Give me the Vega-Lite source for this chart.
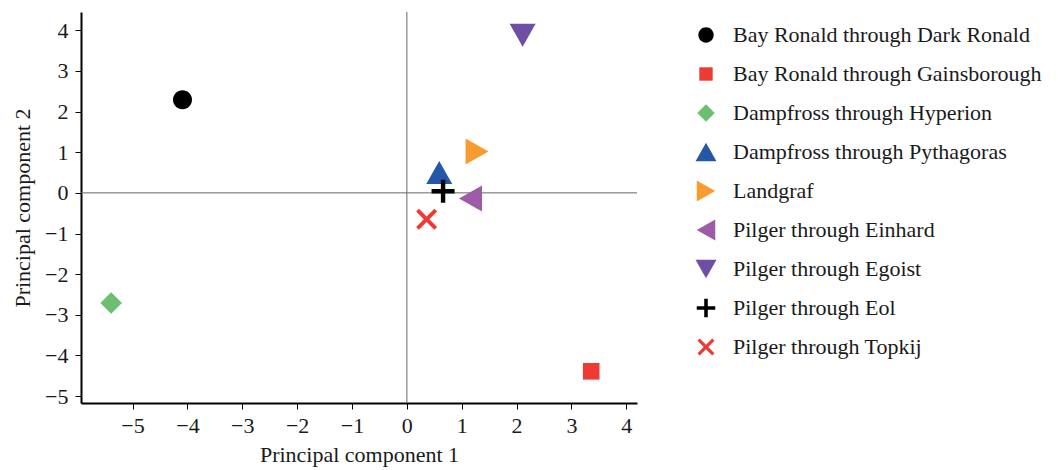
{
  "$schema": "https://vega.github.io/schema/vega-lite/v6.json",
  "width": 556,
  "height": 391,
  "autosize": {"type": "none"},
  "padding": {"left": 81, "top": 12, "right": 421, "bottom": 67},
  "background": "white",
  "config": {
    "view": {"stroke": null},
    "font": "Liberation Serif",
    "axis": {
      "grid": false,
      "domainColor": "#000000",
      "domainWidth": 2,
      "tickColor": "#000000",
      "tickWidth": 1,
      "tickSize": 6,
      "labelFont": "Liberation Serif",
      "labelFontSize": 22,
      "labelColor": "#1a1a1a",
      "titleFont": "Liberation Serif",
      "titleFontSize": 22,
      "titleFontWeight": "normal",
      "titleColor": "#1a1a1a"
    },
    "legend": {
      "labelFont": "Liberation Serif",
      "labelFontSize": 22,
      "labelColor": "#1a1a1a",
      "labelLimit": 400
    }
  },
  "layer": [
    {
      "data": {"values": [{"zero": 0}]},
      "mark": {"type": "rule", "color": "#666666", "strokeWidth": 1},
      "encoding": {
        "x": {"field": "zero", "type": "quantitative", "title": "Principal component 1"}
      }
    },
    {
      "data": {"values": [{"zero": 0}]},
      "mark": {"type": "rule", "color": "#666666", "strokeWidth": 1},
      "encoding": {
        "y": {"field": "zero", "type": "quantitative", "title": "Principal component 2"}
      }
    },
    {
      "data": {
        "values": [
          {"group": "Bay Ronald through Dark Ronald", "pc1": -4.09, "pc2": 2.29},
          {"group": "Bay Ronald through Gainsborough", "pc1": 3.36, "pc2": -4.39},
          {"group": "Dampfross through Hyperion", "pc1": -5.39, "pc2": -2.71},
          {"group": "Dampfross through Pythagoras", "pc1": 0.59, "pc2": 0.5},
          {"group": "Landgraf", "pc1": 1.28, "pc2": 1.02},
          {"group": "Pilger through Einhard", "pc1": 1.16, "pc2": -0.14},
          {"group": "Pilger through Egoist", "pc1": 2.11, "pc2": 3.88},
          {"group": "Pilger through Eol", "pc1": 0.66, "pc2": 0.04},
          {"group": "Pilger through Topkij", "pc1": 0.36, "pc2": -0.65}
        ]
      },
      "mark": {"type": "point", "filled": true, "size": 400, "strokeWidth": 0, "opacity": 1},
      "encoding": {
        "x": {
          "field": "pc1",
          "type": "quantitative",
          "title": "Principal component 1",
          "scale": {"domain": [-5.94, 4.195], "nice": false, "zero": false},
          "axis": {"values": [-5, -4, -3, -2, -1, 0, 1, 2, 3, 4], "labelPadding": 6, "titlePadding": 8}
        },
        "y": {
          "field": "pc2",
          "type": "quantitative",
          "title": "Principal component 2",
          "scale": {"domain": [-5.17, 4.45], "nice": false, "zero": false},
          "axis": {"values": [-5, -4, -3, -2, -1, 0, 1, 2, 3, 4], "labelPadding": 7, "titlePadding": 10}
        },
        "color": {
          "field": "group",
          "type": "nominal",
          "scale": {
            "domain": ["Bay Ronald through Dark Ronald", "Bay Ronald through Gainsborough", "Dampfross through Hyperion", "Dampfross through Pythagoras", "Landgraf", "Pilger through Einhard", "Pilger through Egoist", "Pilger through Eol", "Pilger through Topkij"],
            "range": ["#000000", "#ee3a33", "#6bbf72", "#2457a8", "#f89c32", "#9e5ba6", "#6f4fa3", "#000000", "#ee3a33"]
          },
          "legend": {
            "title": null,
            "orient": "none",
            "legendX": 614,
            "legendY": 12,
            "symbolSize": 260,
            "symbolStrokeWidth": 0,
            "symbolOpacity": 1,
            "rowPadding": 17,
            "labelOffset": 16
          }
        },
        "shape": {
          "field": "group",
          "type": "nominal",
          "scale": {
            "domain": ["Bay Ronald through Dark Ronald", "Bay Ronald through Gainsborough", "Dampfross through Hyperion", "Dampfross through Pythagoras", "Landgraf", "Pilger through Einhard", "Pilger through Egoist", "Pilger through Eol", "Pilger through Topkij"],
            "range": [
              "M0.95,0A0.95,0.95,0,1,1,-0.95,0A0.95,0.95,0,1,1,0.95,0Z",
              "M-0.83,-0.83H0.83V0.83H-0.83Z",
              "M0,-1.08L1.08,0L0,1.08L-1.08,0Z",
              "M0,-1.15L1.3,1.15L-1.3,1.15Z",
              "M1.15,0L-1.15,-1.3L-1.15,1.3Z",
              "M-1.15,0L1.15,-1.3L1.15,1.3Z",
              "M0,1.15L1.3,-1.15L-1.3,-1.15Z",
              "M-1.15,-0.22H-0.22V-1.15H0.22V-0.22H1.15V0.22H0.22V1.15H-0.22V0.22H-1.15Z",
              "M-1.05,-0.77L-0.77,-1.05L0,-0.28L0.77,-1.05L1.05,-0.77L0.28,0L1.05,0.77L0.77,1.05L0,0.28L-0.77,1.05L-1.05,0.77L-0.28,0Z"
            ]
          }
        }
      }
    }
  ]
}
